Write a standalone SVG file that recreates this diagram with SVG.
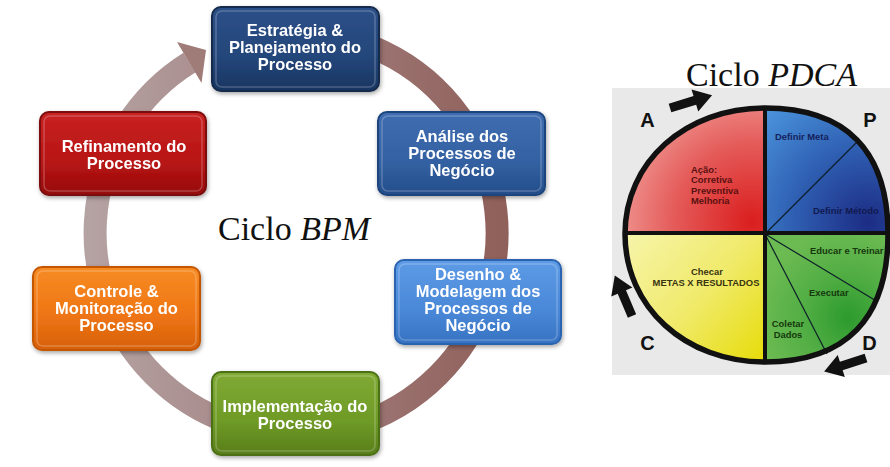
<svg xmlns="http://www.w3.org/2000/svg" width="890" height="467" viewBox="0 0 890 467">
<defs>
  <style>
    .lbl{font-family:"Liberation Sans",Arial,sans-serif;font-weight:bold;font-size:16.5px;fill:#fff;text-anchor:middle}
    .hl{fill:none;stroke:#fff;stroke-opacity:.22;stroke-width:1.5}
    .bx{filter:url(#sh)}
    .ttl{font-family:"Liberation Serif","Times New Roman",serif;font-size:34px;fill:#111}
    .it{font-style:italic}
    .big{font-family:"Liberation Sans",Arial,sans-serif;font-weight:bold;font-size:20px;fill:#111;text-anchor:middle}
    .sm{font-family:"Liberation Sans",Arial,sans-serif;font-weight:bold;font-size:9.4px}
    .div{stroke:#111;stroke-width:4}
    .thin{stroke:#0d1f2a;stroke-width:1.2}
    .arw{fill:#111}
  </style>
  <filter id="sh" x="-10%" y="-10%" width="120%" height="130%">
    <feDropShadow dx="1" dy="2" stdDeviation="2" flood-color="#000" flood-opacity="0.35"/>
  </filter>
  <linearGradient id="gNavy" x1="0" y1="0" x2="0" y2="1"><stop offset="0" stop-color="#2c5088"/><stop offset="0.6" stop-color="#24467a"/><stop offset="1" stop-color="#183560"/></linearGradient>
  <linearGradient id="gBlue" x1="0" y1="0" x2="0" y2="1"><stop offset="0" stop-color="#3f6db0"/><stop offset="0.6" stop-color="#3361a2"/><stop offset="1" stop-color="#244d8a"/></linearGradient>
  <linearGradient id="gLBlue" x1="0" y1="0" x2="0" y2="1"><stop offset="0" stop-color="#5d9be6"/><stop offset="0.6" stop-color="#4a88d8"/><stop offset="1" stop-color="#3672c2"/></linearGradient>
  <linearGradient id="gGreen" x1="0" y1="0" x2="0" y2="1"><stop offset="0" stop-color="#80aa34"/><stop offset="0.6" stop-color="#6e9a26"/><stop offset="1" stop-color="#587e1a"/></linearGradient>
  <linearGradient id="gOrange" x1="0" y1="0" x2="0" y2="1"><stop offset="0" stop-color="#f78c24"/><stop offset="0.6" stop-color="#ee7414"/><stop offset="1" stop-color="#d6600a"/></linearGradient>
  <linearGradient id="gRed" x1="0" y1="0" x2="0" y2="1"><stop offset="0" stop-color="#c82222"/><stop offset="0.6" stop-color="#b81414"/><stop offset="1" stop-color="#960c0c"/></linearGradient>
  <linearGradient id="gRing" gradientUnits="userSpaceOnUse" x1="90" y1="0" x2="500" y2="0"><stop offset="0" stop-color="#b5a2a2"/><stop offset="0.5" stop-color="#a28080"/><stop offset="1" stop-color="#90605a"/></linearGradient>
  <radialGradient id="qRed" gradientUnits="userSpaceOnUse" cx="752" cy="222" r="140"><stop offset="0" stop-color="#da1e1e"/><stop offset="0.55" stop-color="#e45a58"/><stop offset="1" stop-color="#f09a96"/></radialGradient>
  <radialGradient id="qBlue" gradientUnits="userSpaceOnUse" cx="868" cy="222" r="150"><stop offset="0" stop-color="#1c2c84"/><stop offset="0.5" stop-color="#2f5fb2"/><stop offset="1" stop-color="#4a94dc"/></radialGradient>
  <linearGradient id="qYel" gradientUnits="userSpaceOnUse" x1="630" y1="240" x2="765" y2="362"><stop offset="0" stop-color="#f6f4a6"/><stop offset="0.5" stop-color="#f0ea6a"/><stop offset="1" stop-color="#e6dc08"/></linearGradient>
  <radialGradient id="qGrn" gradientUnits="userSpaceOnUse" cx="848" cy="318" r="90"><stop offset="0" stop-color="#2c9a2e"/><stop offset="0.5" stop-color="#52ae44"/><stop offset="1" stop-color="#6cbb52"/></radialGradient>
  <path id="pdcaShape" d="M765 108 C846.2 108 888 150.8 888 234 C888 318.5 846.2 362 765 362 C685.2 362 625 307 625 234 C625 162.2 685.2 108 765 108 Z"/>
  <clipPath id="pdcaClip"><use href="#pdcaShape"/></clipPath>
  <polygon id="blk" points="0,-4.5 26,-4.5 26,-11.5 44,0 26,11.5 26,4.5 0,4.5"/>
</defs>

<rect width="890" height="467" fill="#ffffff"/>

<!-- BPM cycle ring -->
<g id="connectors">
  <path d="M296 32 A201 201 0 1 1 189.5 62.6" fill="none" stroke="url(#gRing)" stroke-width="23"/>
  <polygon points="177,42 201.5,83 206,50" fill="#a07c78"/>
</g>

<g id="n-estrategia" class="bx">
  <rect x="212" y="7" width="167" height="84" rx="9" fill="url(#gNavy)" stroke="#132a4c" stroke-width="2"/>
  <rect x="216" y="11" width="159" height="76" rx="6" class="hl"/>
  <text class="lbl" x="295" y="36">Estratégia &amp;</text>
  <text class="lbl" x="295" y="53">Planejamento do</text>
  <text class="lbl" x="295" y="70">Processo</text>
</g>

<g id="n-analise" class="bx">
  <rect x="378" y="112" width="167" height="83" rx="9" fill="url(#gBlue)" stroke="#1e447e" stroke-width="2"/>
  <rect x="382" y="116" width="159" height="75" rx="6" class="hl"/>
  <text class="lbl" x="462" y="142">Análise dos</text>
  <text class="lbl" x="462" y="159">Processos de</text>
  <text class="lbl" x="462" y="176">Negócio</text>
</g>

<g id="n-desenho" class="bx">
  <rect x="395" y="260" width="166" height="84" rx="9" fill="url(#gLBlue)" stroke="#2c64b0" stroke-width="2"/>
  <rect x="399" y="264" width="158" height="76" rx="6" class="hl"/>
  <text class="lbl" x="478" y="280">Desenho &amp;</text>
  <text class="lbl" x="478" y="297">Modelagem dos</text>
  <text class="lbl" x="478" y="314">Processos de</text>
  <text class="lbl" x="478" y="331">Negócio</text>
</g>

<g id="n-implementacao" class="bx">
  <rect x="212" y="372" width="167" height="83" rx="9" fill="url(#gGreen)" stroke="#4c7014" stroke-width="2"/>
  <rect x="216" y="376" width="159" height="75" rx="6" class="hl"/>
  <text class="lbl" x="295" y="412">Implementação do</text>
  <text class="lbl" x="295" y="429">Processo</text>
</g>

<g id="n-controle" class="bx">
  <rect x="33" y="267" width="167" height="83" rx="9" fill="url(#gOrange)" stroke="#c45606" stroke-width="2"/>
  <rect x="37" y="271" width="159" height="75" rx="6" class="hl"/>
  <text class="lbl" x="116.5" y="297">Controle &amp;</text>
  <text class="lbl" x="116.5" y="314">Monitoração do</text>
  <text class="lbl" x="116.5" y="331">Processo</text>
</g>

<g id="n-refinamento" class="bx">
  <rect x="40" y="112" width="166" height="83" rx="9" fill="url(#gRed)" stroke="#7c0808" stroke-width="2"/>
  <rect x="44" y="116" width="158" height="75" rx="6" class="hl"/>
  <text class="lbl" x="124" y="152">Refinamento do</text>
  <text class="lbl" x="124" y="169">Processo</text>
</g>

<text class="ttl" x="218" y="240">Ciclo <tspan class="it">BPM</tspan></text>

<!-- PDCA -->
<g id="pdca">
  <rect x="612" y="88" width="278" height="287" fill="#e9e9e9"/>
  <g clip-path="url(#pdcaClip)">
    <rect x="620" y="100" width="145" height="134" fill="url(#qRed)"/>
    <rect x="765" y="100" width="130" height="134" fill="url(#qBlue)"/>
    <rect x="620" y="234" width="145" height="135" fill="url(#qYel)"/>
    <rect x="765" y="234" width="130" height="135" fill="url(#qGrn)"/>
  </g>
  <line class="thin" x1="765" y1="234" x2="858" y2="141"/>
  <line class="thin" x1="765" y1="234" x2="878" y2="302"/>
  <line class="thin" x1="765" y1="234" x2="827" y2="354"/>
  <line class="div" x1="765" y1="108" x2="765" y2="362"/>
  <line class="div" x1="625" y1="233" x2="888" y2="233"/>
  <use href="#pdcaShape" fill="none" stroke="#111" stroke-width="5.5"/>

  <text class="sm" x="775" y="140" fill="#15215c">Definir Meta</text>
  <text class="sm" x="813" y="214" fill="#111a50">Definir Método</text>
  <text class="sm" x="691" y="173" fill="#5a1010">Ação:</text>
  <text class="sm" x="691" y="183.3" fill="#5a1010">Corretiva</text>
  <text class="sm" x="691" y="193.5" fill="#5a1010">Preventiva</text>
  <text class="sm" x="691" y="203.7" fill="#5a1010">Melhoria</text>
  <text class="sm" x="707" y="275" text-anchor="middle" fill="#3a3410">Checar</text>
  <text class="sm" x="706" y="286" text-anchor="middle" fill="#3a3410">METAS X RESULTADOS</text>
  <text class="sm" x="810" y="254" fill="#16380e">Educar e Treinar</text>
  <text class="sm" x="809" y="295.5" fill="#16380e">Executar</text>
  <text class="sm" x="788" y="327" text-anchor="middle" fill="#16380e">Coletar</text>
  <text class="sm" x="788" y="337.5" text-anchor="middle" fill="#16380e">Dados</text>

  <text class="big" x="647.5" y="127">A</text>
  <text class="big" x="870" y="127">P</text>
  <text class="big" x="647.5" y="350">C</text>
  <text class="big" x="869.5" y="350">D</text>

  <use href="#blk" class="arw" transform="translate(670 108) rotate(-17)"/>
  <use href="#blk" class="arw" transform="translate(632 316) rotate(-113)"/>
  <use href="#blk" class="arw" transform="translate(866 358) rotate(162)"/>
</g>

<text class="ttl" x="686" y="86">Ciclo <tspan class="it">PDCA</tspan></text>
</svg>
